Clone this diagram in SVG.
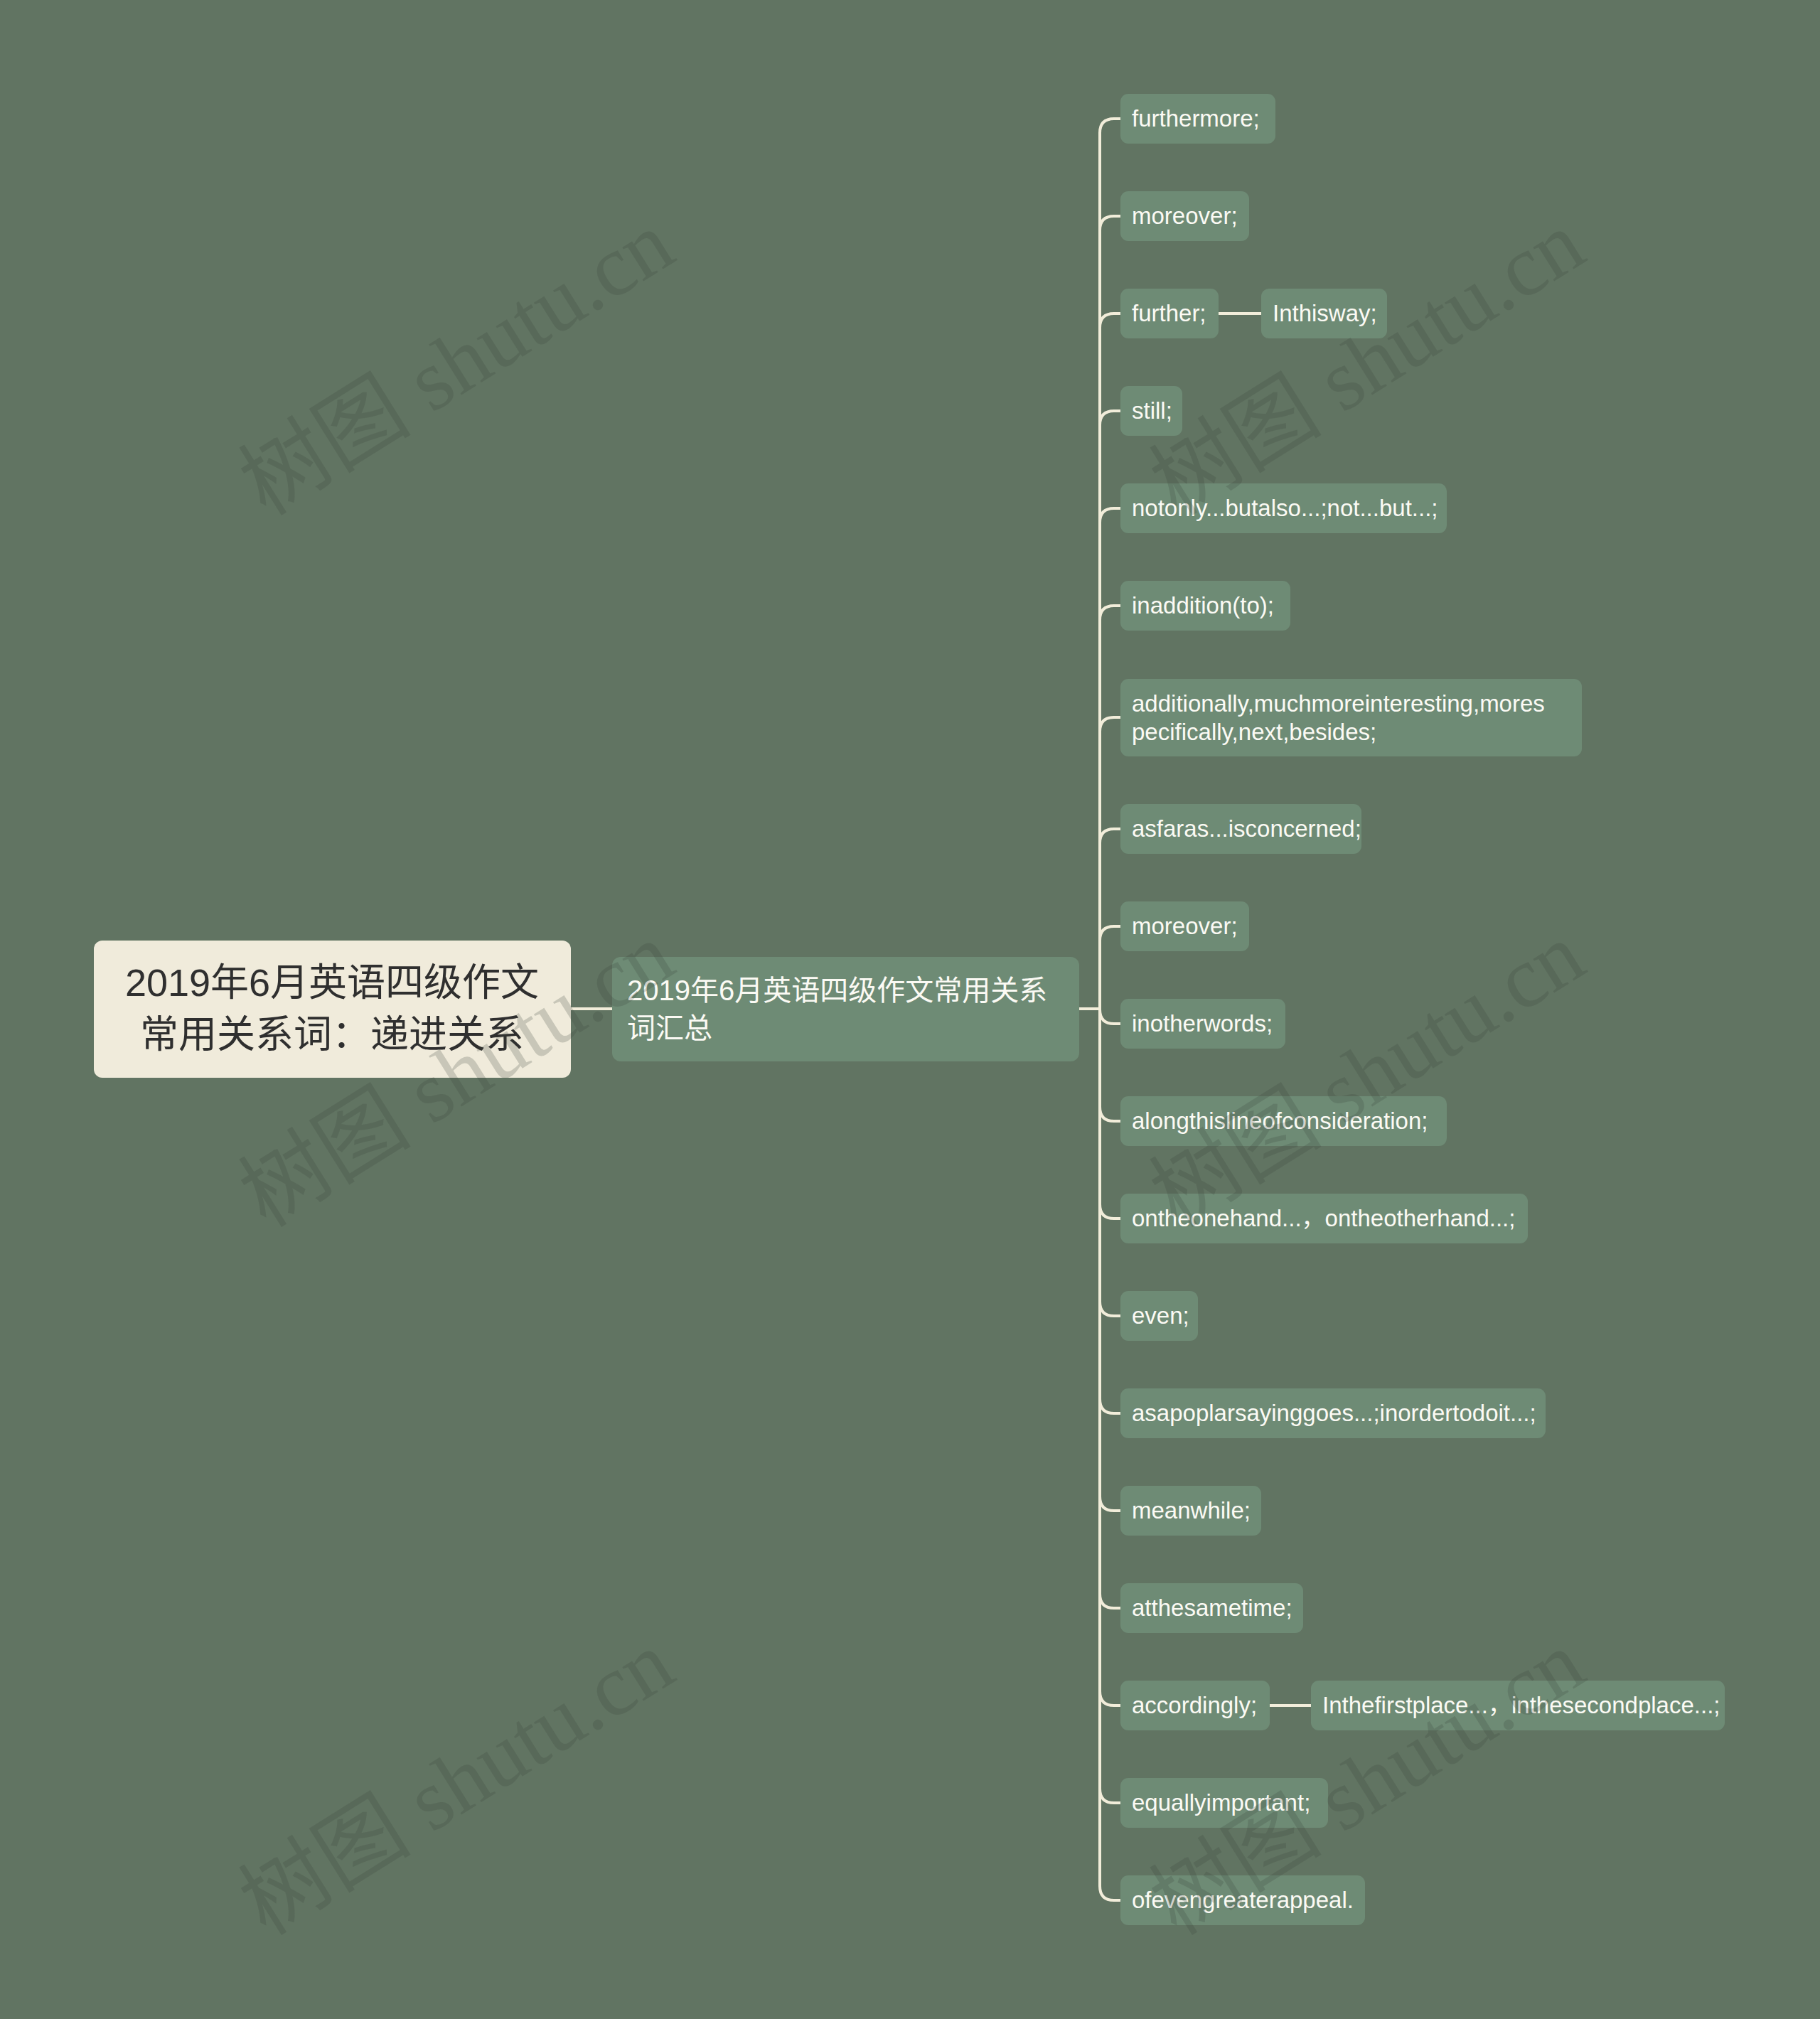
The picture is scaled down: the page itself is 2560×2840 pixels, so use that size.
<svg xmlns="http://www.w3.org/2000/svg" width="2560" height="2840" viewBox="0 0 2560 2840">
<style>
.bg{fill:#617462}
.conn{fill:none;stroke:#f2edda;stroke-width:4;stroke-linecap:round}
.child rect{fill:#6e8b75}
.child text{fill:#fbfaf4;font-family:"Liberation Sans","Noto Sans CJK SC",sans-serif;font-size:33px}
.main rect{fill:#6e8b75}
.main text{fill:#fbfaf4;font-family:"Liberation Sans","Noto Sans CJK SC",sans-serif;font-size:40px}
.root rect{fill:#f0ebdb}
.root text{fill:#2f2f2f;font-family:"Liberation Sans","Noto Sans CJK SC",sans-serif;font-size:54px;text-anchor:middle}
.wm{fill:#3a463a;fill-opacity:0.22;font-family:"Liberation Serif","Noto Sans CJK SC",serif;font-size:122px;text-anchor:middle}
</style>
<rect class="bg" x="0" y="0" width="2560" height="2840"/>

<g id="connectors">
<path class="conn" d="M803,1419 H861"/>
<path class="conn" d="M1518,1419 H1547 V187 Q1547,167 1567,167 H1576"/>
<path class="conn" d="M1518,1419 H1547 V324 Q1547,304 1567,304 H1576"/>
<path class="conn" d="M1518,1419 H1547 V461 Q1547,441 1567,441 H1576"/>
<path class="conn" d="M1518,1419 H1547 V598 Q1547,578 1567,578 H1576"/>
<path class="conn" d="M1518,1419 H1547 V735 Q1547,715 1567,715 H1576"/>
<path class="conn" d="M1518,1419 H1547 V872 Q1547,852 1567,852 H1576"/>
<path class="conn" d="M1518,1419 H1547 V1029 Q1547,1009 1567,1009 H1576"/>
<path class="conn" d="M1518,1419 H1547 V1186 Q1547,1166 1567,1166 H1576"/>
<path class="conn" d="M1518,1419 H1547 V1323 Q1547,1303 1567,1303 H1576"/>
<path class="conn" d="M1518,1419 H1547 V1420 Q1547,1440 1567,1440 H1576"/>
<path class="conn" d="M1518,1419 H1547 V1557 Q1547,1577 1567,1577 H1576"/>
<path class="conn" d="M1518,1419 H1547 V1694 Q1547,1714 1567,1714 H1576"/>
<path class="conn" d="M1518,1419 H1547 V1831 Q1547,1851 1567,1851 H1576"/>
<path class="conn" d="M1518,1419 H1547 V1968 Q1547,1988 1567,1988 H1576"/>
<path class="conn" d="M1518,1419 H1547 V2105 Q1547,2125 1567,2125 H1576"/>
<path class="conn" d="M1518,1419 H1547 V2242 Q1547,2262 1567,2262 H1576"/>
<path class="conn" d="M1518,1419 H1547 V2379 Q1547,2399 1567,2399 H1576"/>
<path class="conn" d="M1518,1419 H1547 V2516 Q1547,2536 1567,2536 H1576"/>
<path class="conn" d="M1518,1419 H1547 V2653 Q1547,2673 1567,2673 H1576"/>
<path class="conn" d="M1714,441 H1774"/>
<path class="conn" d="M1786,2399 H1844"/>
</g>

<g id="root" class="root">
<rect x="132" y="1323" width="671" height="193" rx="12"/>
<text x="467" y="1401">2019年6月英语四级作文</text>
<text x="467" y="1474">常用关系词：递进关系</text>
</g>

<g id="main" class="main">
<rect x="861" y="1346" width="657" height="147" rx="12"/>
<text x="882" y="1407">2019年6月英语四级作文常用关系</text>
<text x="882" y="1460">词汇总</text>
</g>

<g id="n1" class="child"><rect x="1576" y="132" width="218" height="70" rx="11"/><text x="1592" y="178">furthermore;</text></g>
<g id="n2" class="child"><rect x="1576" y="269" width="181" height="70" rx="11"/><text x="1592" y="315">moreover;</text></g>
<g id="n3" class="child"><rect x="1576" y="406" width="138" height="70" rx="11"/><text x="1592" y="452">further;</text></g>
<g id="n3a" class="child"><rect x="1774" y="406" width="177" height="70" rx="11"/><text x="1790" y="452">Inthisway;</text></g>
<g id="n4" class="child"><rect x="1576" y="543" width="87" height="70" rx="11"/><text x="1592" y="589">still;</text></g>
<g id="n5" class="child"><rect x="1576" y="680" width="459" height="70" rx="11"/><text x="1592" y="726">notonly...butalso...;not...but...;</text></g>
<g id="n6" class="child"><rect x="1576" y="817" width="239" height="70" rx="11"/><text x="1592" y="863">inaddition(to);</text></g>
<g id="n7" class="child"><rect x="1576" y="955" width="649" height="109" rx="11"/><text x="1592" y="1001">additionally,muchmoreinteresting,mores</text><text x="1592" y="1041">pecifically,next,besides;</text></g>
<g id="n8" class="child"><rect x="1576" y="1131" width="339" height="70" rx="11"/><text x="1592" y="1177">asfaras...isconcerned;</text></g>
<g id="n9" class="child"><rect x="1576" y="1268" width="181" height="70" rx="11"/><text x="1592" y="1314">moreover;</text></g>
<g id="n10" class="child"><rect x="1576" y="1405" width="232" height="70" rx="11"/><text x="1592" y="1451">inotherwords;</text></g>
<g id="n11" class="child"><rect x="1576" y="1542" width="459" height="70" rx="11"/><text x="1592" y="1588">alongthislineofconsideration;</text></g>
<g id="n12" class="child"><rect x="1576" y="1679" width="573" height="70" rx="11"/><text x="1592" y="1725">ontheonehand...，ontheotherhand...;</text></g>
<g id="n13" class="child"><rect x="1576" y="1816" width="109" height="70" rx="11"/><text x="1592" y="1862">even;</text></g>
<g id="n14" class="child"><rect x="1576" y="1953" width="598" height="70" rx="11"/><text x="1592" y="1999">asapoplarsayinggoes...;inordertodoit...;</text></g>
<g id="n15" class="child"><rect x="1576" y="2090" width="198" height="70" rx="11"/><text x="1592" y="2136">meanwhile;</text></g>
<g id="n16" class="child"><rect x="1576" y="2227" width="257" height="70" rx="11"/><text x="1592" y="2273">atthesametime;</text></g>
<g id="n17" class="child"><rect x="1576" y="2364" width="210" height="70" rx="11"/><text x="1592" y="2410">accordingly;</text></g>
<g id="n17a" class="child"><rect x="1844" y="2364" width="582" height="70" rx="11"/><text x="1860" y="2410">Inthefirstplace...，inthesecondplace...;</text></g>
<g id="n18" class="child"><rect x="1576" y="2501" width="292" height="70" rx="11"/><text x="1592" y="2547">equallyimportant;</text></g>
<g id="n19" class="child"><rect x="1576" y="2638" width="344" height="70" rx="11"/><text x="1592" y="2684">ofevengreaterappeal.</text></g>

<g id="watermark">
<text class="wm" transform="translate(643,512) rotate(-32)" y="40">树图 shutu.cn</text>
<text class="wm" transform="translate(1924,512) rotate(-32)" y="40">树图 shutu.cn</text>
<text class="wm" transform="translate(643,1513) rotate(-32)" y="40">树图 shutu.cn</text>
<text class="wm" transform="translate(1924,1513) rotate(-32)" y="40">树图 shutu.cn</text>
<text class="wm" transform="translate(643,2509) rotate(-32)" y="40">树图 shutu.cn</text>
<text class="wm" transform="translate(1924,2509) rotate(-32)" y="40">树图 shutu.cn</text>
</g>
</svg>
